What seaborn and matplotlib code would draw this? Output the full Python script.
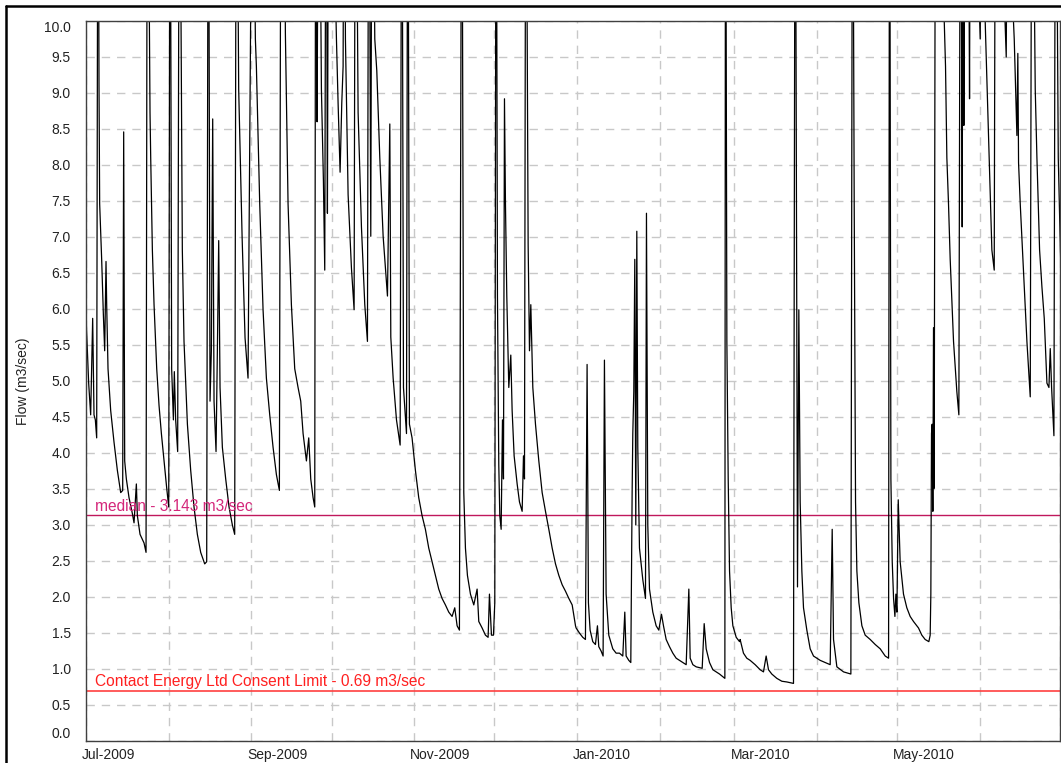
import pandas as pd
import matplotlib.pyplot as plt
import matplotlib.dates as mdates
import matplotlib.ticker as mticker
from matplotlib.lines import Line2D
from matplotlib.transforms import ScaledTranslation
import seaborn as sns

start = "2009-07-01"
end = "2010-07-01"

# days since 1 Jul 2009 and flow read off the hydrograph
# (floods go above 10 and are cut off by the axis, so they get 12-14)
days = [
    0.0, 1.0, 1.75, 2.5, 3.0, 3.5, 4.0, 4.5, 4.87, 5.12, 5.87, 6.5, 7.0, 7.5, 7.75,
    8.25, 9.25, 10.5, 11.75, 13.0, 13.75, 14.12, 14.5, 15.12, 16.12, 17.37, 18.0,
    18.87, 19.25, 20.25, 21.75, 22.5, 23.0, 23.99, 24.25, 24.87, 25.5, 26.5, 27.37,
    28.25, 29.25, 30.25, 31.0, 31.5, 32.1, 32.75, 33.1, 33.6, 34.35, 35.0, 36.1,
    36.73, 38.0, 39.23, 40.48, 41.73, 42.98, 44.48, 45.23, 45.85, 46.48, 46.98,
    47.48, 47.98, 48.73, 49.23, 49.73, 50.23, 51.1, 52.35, 53.6, 54.85, 55.72,
    56.35, 57.22, 58.5, 59.6, 60.72,
    62.47, 63.47, 63.85, 65.1, 66.35, 67.6, 68.85, 70.1, 71.35, 72.47, 73.1, 73.97,
    74.72, 75.72, 76.97, 78.22, 79.47, 80.47, 81.35, 82.6, 83.47, 84.22, 85.1, 85.72,
    86.1, 86.6, 87.22, 88.22, 88.97, 89.47, 89.97, 90.47, 90.97, 92.6, 93.85, 94.47,
    95.22, 95.85, 96.35, 96.72, 97.22, 98.22, 99.47, 100.47, 100.97, 101.97, 103.22,
    104.47, 105.47, 105.97, 106.72, 107.22, 108.22, 108.97, 110.1, 111.35, 111.97,
    112.97, 113.85, 114.22, 115.1, 116.35, 117.72, 118.35, 118.97, 120.1, 120.6, 121.2,
    122.19, 123.44, 124.69, 125.94, 127.19, 128.44, 129.69, 130.94, 132.19, 133.44,
    134.69, 135.94, 137.19, 138.19, 139.07, 139.94, 140.82, 141.57, 142.19, 142.94,
    144.07, 145.32, 146.57, 147.19, 148.44, 149.69, 150.69, 151.19, 151.94, 152.69,
    153.19, 153.69, 154.19, 154.69, 155.07, 155.57, 156.07, 156.44, 156.82, 157.19,
    157.69, 158.44, 159.19, 159.69, 160.44, 161.57, 162.44, 163.44, 163.94, 164.32,
    164.82, 165.69, 166.19, 166.69, 167.44, 168.44, 169.69, 170.94, 172.19, 173.44,
    174.69, 175.94, 177.19, 178.44, 179.69, 180.94, 182.19, 183.44,
    183.66, 184.91, 186.16, 187.16, 187.78, 188.28, 188.91, 189.91, 190.91, 191.66,
    192.16, 193.03, 193.78, 194.28, 194.91, 195.91, 197.41, 198.66, 199.91, 201.16,
    201.91, 202.41, 203.41, 204.16, 204.66, 204.91, 205.28, 205.66, 206.03, 206.41,
    206.78, 207.41, 208.66, 209.66, 210.03, 210.53, 211.16, 212.41, 213.66, 214.66,
    215.66, 216.41, 217.41, 218.66, 219.91, 221.16, 222.41, 223.66, 224.91, 225.91,
    226.41, 227.41, 228.66, 230.91, 231.66, 232.41, 233.66, 234.91, 236.16, 237.41,
    239.41, 239.66, 240.16, 240.66, 241.16, 241.78, 242.41, 243.66, 244.91,
    245.13, 246.38, 247.63, 248.88, 250.76, 252.63, 253.88, 254.88, 255.76, 257.0,
    258.88, 260.76, 262.63, 265.13, 265.76, 266.63, 267.13, 267.63, 268.26, 268.88,
    270.13, 271.38, 272.63, 275.13, 278.88, 279.63, 280.13, 281.38, 283.88, 286.63,
    287.26, 287.88, 288.38, 288.88, 289.63, 290.76, 292.0, 293.88, 295.76, 297.63,
    299.5, 300.76, 301.13, 301.63, 302.13, 302.63, 303.13, 303.5, 303.88, 304.38,
    305.1, 306.35, 307.6, 308.85, 310.1, 311.97, 313.22, 314.47, 315.85, 316.35,
    316.6, 316.85, 317.1, 317.35, 317.6, 317.85, 318.35, 320.1, 322.1, 322.6, 323.22,
    323.85, 325.1, 326.35, 327.1, 327.72, 328.35, 328.72, 328.97, 329.35, 330.72,
    331.1, 331.47, 335.1, 335.47, 337.1, 338.22, 339.47, 340.35, 340.85, 342.6,
    344.85, 345.22, 347.85, 348.85, 349.2, 349.47, 350.1, 351.35, 352.6, 353.85,
    354.47, 355.72, 356.35, 357.35, 358.22, 359.1, 360.1, 360.85, 361.35, 361.85,
    362.72, 363.35, 364.35, 365.35,
]
flow = [
    5.9, 4.97, 4.53, 5.87, 4.53, 4.46, 4.21, 14, 9.11, 7.46, 6.69, 5.93, 5.42, 6.66, 6.06,
    5.17, 4.59, 4.15, 3.76, 3.45, 3.48, 8.46, 3.89, 3.64, 3.38, 3.16, 3.03,
    3.57, 3.13, 2.87, 2.75, 2.62, 14, 8.73, 8.10, 6.82, 6.06, 5.17, 4.66,
    4.27, 3.89, 3.51, 3.25, 14, 5.17, 4.46, 5.13, 4.46, 4.02, 14, 6.82,
    5.55, 4.40, 3.76, 3.25, 2.87, 2.62, 2.46, 2.49, 14, 4.72, 5.42,
    8.64, 4.72, 4.02, 5.42, 6.95, 4.91, 4.08, 3.64, 3.25, 3.0, 2.87,
    14, 9.05, 7.0, 5.6, 5.04,
    14, 9.75, 9.37, 7.46, 5.99, 5.04, 4.53, 4.08, 3.70, 3.48, 14, 14,
    9.82, 7.46, 6.06, 5.17, 4.91, 4.72, 4.27, 3.89, 4.21, 3.64, 3.38, 3.25,
    14, 8.6, 14, 9.05, 7.78, 6.54, 14, 7.33, 14, 12, 9.75, 8.86,
    7.90, 8.86, 9.37, 14, 9.75, 7.59, 6.57, 5.99, 14, 8.73, 7.14,
    6.06, 5.55, 14, 7.01, 14, 9.75, 9.31, 8.10, 7.01, 6.69,
    6.18, 8.57, 5.61, 5.04, 4.46, 4.11, 14, 4.91, 4.27, 14, 4.4,
    4.21, 3.76, 3.38, 3.13, 2.94, 2.68, 2.49, 2.30, 2.11, 1.98,
    1.89, 1.79, 1.73, 1.85, 1.60, 1.54, 14, 3.45, 2.68, 2.30,
    2.04, 1.89, 2.11, 1.66, 1.57, 1.47, 1.44, 2.04, 1.47, 1.47,
    1.92, 14, 6.18, 3.83, 3.13, 2.94, 4.46, 3.64, 8.92, 7.46,
    6.18, 4.91, 5.36, 4.59, 3.96, 3.57, 3.32, 3.19, 3.96, 3.64,
    14, 6.89, 5.42, 6.06, 4.91, 4.40, 3.89, 3.45, 3.19, 2.94,
    2.68, 2.46, 2.30, 2.17, 2.08, 1.98, 1.89, 1.60,
    1.57, 1.50, 1.44, 1.41, 5.23, 1.92, 1.54, 1.38, 1.34, 1.60,
    1.31, 1.25, 1.18, 5.29, 2.04, 1.47, 1.28, 1.22, 1.22, 1.18,
    1.79, 1.18, 1.12, 1.09, 3.45, 4.27, 4.85, 6.69, 3.0, 7.08,
    4.08, 2.68, 2.24, 1.98, 7.33, 3.0, 2.11, 1.79, 1.60, 1.54,
    1.76, 1.60, 1.41, 1.31, 1.22, 1.15, 1.12, 1.09, 1.06, 2.11,
    1.15, 1.06, 1.03, 1.01, 1.63, 1.28, 1.09, 0.99, 0.96, 0.93,
    0.87, 14, 5.55, 3.64, 2.36, 1.85, 1.60, 1.44, 1.38,
    1.41, 1.22, 1.15, 1.12, 1.06, 0.99, 0.96, 1.18, 0.99, 0.93,
    0.87, 0.83, 0.82, 0.80, 14, 2.14, 5.99, 3.32, 2.36, 1.85,
    1.54, 1.28, 1.18, 1.12, 1.06, 2.94, 1.41, 1.03, 0.96, 0.93,
    14, 7.46, 3.32, 2.36, 1.92, 1.60, 1.47, 1.41, 1.34, 1.28,
    1.18, 1.15, 14, 3.64, 2.49, 1.98, 1.73, 2.04, 1.79, 3.35,
    2.49, 2.04, 1.85, 1.73, 1.66, 1.57, 1.47, 1.41, 1.38, 1.47,
    2.04, 4.27, 4.40, 3.19, 5.74, 3.51, 14, 12, 9.37, 8.10, 7.46,
    6.69, 5.55, 4.85, 4.53, 14, 7.14, 14, 8.55, 14, 12,
    8.92, 14, 9.75, 12, 9.82, 8.41, 6.82, 6.54, 14, 12,
    9.5, 12, 9.75, 8.41, 9.55, 8.03, 7.46, 6.50, 5.55, 4.78,
    14, 9.05, 8.10, 6.82, 6.31, 5.87, 4.97, 4.91, 5.45, 4.91,
    4.24, 14, 8.10, 6.50,
]

median_flow = 3.143
consent_limit = 0.69
median_label = "median - 3.143 m3/sec"
consent_label = "Contact Energy Ltd Consent Limit - 0.69 m3/sec"
y_ticks = [i * 0.5 for i in range(21)]

df = pd.DataFrame({
    "date": pd.Timestamp(start) + pd.to_timedelta(days, unit="D"),
    "flow": flow,
})

sns.set_style("white")
plt.rcParams["font.family"] = ["Liberation Sans", "DejaVu Sans"]

fig = plt.figure(figsize=(10.61, 7.63), dpi=100)
ax = fig.add_axes([86 / 1061, 22 / 763, 974 / 1061, 720 / 763])

ax.set_axisbelow(True)
ax.grid(True, color="#c8c8c8", linestyle=(0, (6, 5)), linewidth=1)

ax.axhline(median_flow, color="#c0185c", linewidth=1)
ax.axhline(consent_limit, color="#ff4040", linewidth=1.2)

sns.lineplot(data=df, x="date", y="flow", color="black", linewidth=0.9, ax=ax)

ax.text(0.009, median_flow + 0.05, median_label, transform=ax.get_yaxis_transform(),
        color="#d4267a", fontsize=11.2, va="baseline")
ax.text(0.009, consent_limit + 0.07, consent_label, transform=ax.get_yaxis_transform(),
        color="#ff2020", fontsize=11.2, va="baseline")

ax.set_xlim(pd.Timestamp(start), pd.Timestamp(end))
ax.set_ylim(0, 10)
ax.set_yticks(y_ticks)
ax.yaxis.set_major_formatter(mticker.FormatStrFormatter("%.1f"))

ax.xaxis.set_major_locator(mdates.MonthLocator())
last_day = mdates.date2num(pd.Timestamp(end))


def month_label(x, pos):
    d = mdates.num2date(x)
    if d.month % 2 == 0 or x >= last_day - 1:
        return ""
    return d.strftime("%b-%Y")


ax.xaxis.set_major_formatter(mticker.FuncFormatter(month_label))
ax.tick_params(axis="both", length=0, labelsize=10, colors="#222222")
ax.tick_params(axis="y", pad=11)
ax.tick_params(axis="x", pad=5)

# labels start at the month line, like the original
shift = ScaledTranslation(-4 / 100, 0, fig.dpi_scale_trans)
for t in ax.xaxis.get_major_ticks():
    t.label1.set_horizontalalignment("left")
    t.label1.set_transform(t.label1.get_transform() + shift)

yt = ax.yaxis.get_major_ticks()
yt[0].label1.set_verticalalignment("bottom")
yt[-1].label1.set_verticalalignment("top")

ax.set_xlabel("")
ax.set_ylabel("Flow (m3/sec)", fontsize=10, color="#222222")
ax.yaxis.set_label_coords(-0.058, 0.5)

for s in ax.spines.values():
    s.set_color("#404040")
    s.set_linewidth(1)

# outer frame, only top and left show in the original
fig.add_artist(Line2D([6 / 1061, 6 / 1061], [0, 1 - 6 / 763], transform=fig.transFigure,
                      color="black", linewidth=1.8))
fig.add_artist(Line2D([6 / 1061, 1], [1 - 6 / 763, 1 - 6 / 763], transform=fig.transFigure,
                      color="black", linewidth=1.8))

fig.savefig("out.png", dpi=100)
